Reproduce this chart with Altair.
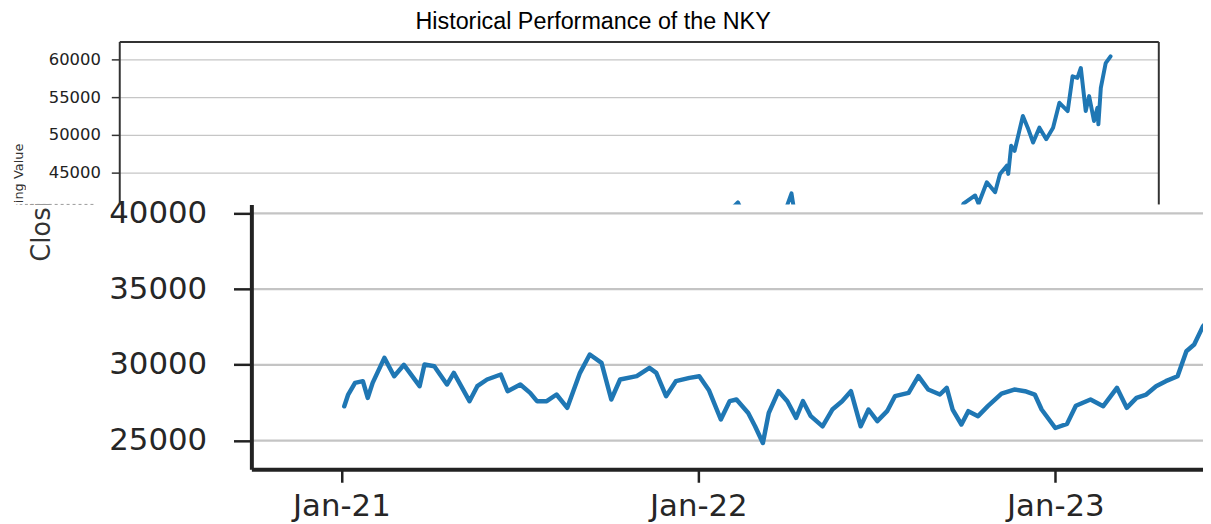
import altair as alt
import pandas as pd

# ---------------- data ----------------
dates = [
    "2021-01-04", "2021-01-08", "2021-01-15", "2021-01-23", "2021-01-28", "2021-02-02",
    "2021-02-14", "2021-02-24", "2021-03-06", "2021-03-22", "2021-03-27", "2021-04-06",
    "2021-04-19", "2021-04-26", "2021-05-12", "2021-05-20", "2021-05-30", "2021-06-13",
    "2021-06-20", "2021-07-03", "2021-07-13", "2021-07-20", "2021-07-30", "2021-08-09",
    "2021-08-20", "2021-09-02", "2021-09-12", "2021-09-24", "2021-10-04", "2021-10-13",
    "2021-10-30", "2021-11-12", "2021-11-19", "2021-11-29", "2021-12-09", "2021-12-23",
    "2022-01-02", "2022-01-12", "2022-01-24", "2022-02-02", "2022-02-09", "2022-02-21",
    "2022-02-28", "2022-03-08", "2022-03-14", "2022-03-24", "2022-04-02", "2022-04-11",
    "2022-04-18", "2022-04-26", "2022-05-08", "2022-05-18", "2022-05-28", "2022-06-06",
    "2022-06-16", "2022-06-24", "2022-07-03", "2022-07-13", "2022-07-21", "2022-08-04",
    "2022-08-14", "2022-08-24", "2022-09-05", "2022-09-12", "2022-09-18", "2022-09-27",
    "2022-10-04", "2022-10-14", "2022-10-24", "2022-11-07", "2022-11-20", "2022-12-01",
    "2022-12-11", "2022-12-18", "2023-01-01", "2023-01-13", "2023-01-22", "2023-02-06",
    "2023-02-19", "2023-03-05", "2023-03-15", "2023-03-25", "2023-04-04", "2023-04-14",
    "2023-04-24", "2023-05-06", "2023-05-15", "2023-05-23", "2023-06-01", "2023-06-15",
    "2023-07-03", "2023-07-28", "2023-08-25", "2023-09-15", "2023-10-26", "2023-11-20",
    "2023-12-29", "2024-01-22", "2024-02-22", "2024-03-22", "2024-04-19", "2024-05-20",
    "2024-06-20", "2024-07-10", "2024-08-05", "2024-08-30", "2024-09-13", "2024-10-15",
    "2024-11-15", "2024-12-27", "2025-01-24", "2025-02-28", "2025-04-07", "2025-05-13",
    "2025-06-10", "2025-06-28", "2025-07-22", "2025-07-29", "2025-08-15", "2025-09-01",
    "2025-09-11", "2025-09-25", "2025-09-28", "2025-10-04", "2025-10-11", "2025-10-28",
    "2025-11-07", "2025-11-18", "2025-12-01", "2025-12-15", "2025-12-29", "2026-01-11",
    "2026-01-28", "2026-02-07", "2026-02-17", "2026-02-24", "2026-03-06", "2026-03-13",
    "2026-03-23", "2026-03-30", "2026-04-01", "2026-04-06", "2026-04-16", "2026-04-26",
]
closing = [
    27260, 28040, 28810, 28920, 27820, 28810,
    30460, 29250, 30000, 28590, 30020, 29910,
    28700, 29470, 27600, 28590, 29030, 29360,
    28260, 28700, 28150, 27600, 27600, 28040,
    27160, 29470, 30680, 30130, 27710, 29030,
    29250, 29800, 29470, 27930, 28920, 29140,
    29250, 28300, 26390, 27600, 27710, 26820,
    25940, 24840, 26820, 28260, 27600, 26500,
    27600, 26610, 25940, 27050, 27600, 28260,
    25940, 27050, 26280, 26940, 27930, 28150,
    29250, 28370, 28040, 28480, 27050, 26060,
    26940, 26610, 27270, 28100, 28370, 28260,
    28040, 27050, 25830, 26100, 27300, 27710,
    27270, 28480, 27160, 27820, 28040, 28590,
    28920, 29250, 30900, 31340, 32550, 33500,
    33700, 32700, 31600, 33500, 30600, 33400,
    33500, 36500, 39100, 41000, 37000, 39000,
    38600, 42200, 31500, 38600, 36600, 39900,
    38600, 40200, 39900, 37200, 31100, 38200,
    38200, 40820, 41920, 40820, 43680, 42360,
    44790, 45890, 44790, 48530, 47870, 52500,
    50950, 48970, 50950, 49420, 50950, 54260,
    53160, 57790, 57570, 58890, 53160, 55150,
    51840, 53600, 51400, 56240, 59550, 60440,
]
top_ticks = [45000, 50000, 55000, 60000]
bottom_ticks = [25000, 30000, 35000, 40000]
bottom_x_ticks = [2021, 2022, 2023]

title_text = "Historical Performance of the NKY"
y_title = "Closing Value"

series = pd.DataFrame({"date": dates, "close": closing})
top_tick_df = pd.DataFrame({"close": top_ticks})
bottom_grid_df = pd.DataFrame({"close": bottom_ticks,
                               "start": ["2020-10-01"] * len(bottom_ticks),
                               "end": ["2023-06-01"] * len(bottom_ticks)})
one_row = pd.DataFrame({"k": [0]})
title_df = pd.DataFrame({"label": [title_text]})

BLUE = "#1f77b4"
AX = "#333333"

def dt(y, m, d):
    return alt.DateTime(year=y, month=m, date=d)

# ---------- scales (pixel ranges inside the plot group) ----------
top_x = alt.Scale(domain=[dt(2020, 9, 29), dt(2026, 8, 2)], range=[112, 1158], nice=False)
top_y = alt.Scale(domain=[40730, 62420], range=[164, 0], nice=False, zero=False)
bot_x = alt.Scale(domain=[dt(2020, 10, 1), dt(2023, 6, 1)], range=[245, 1203], nice=False)
bot_y = alt.Scale(domain=[23100, 40590], range=[430.7, 164], nice=False, zero=False)

# ---------------- chart title ----------------
title_mark = alt.Chart(title_df).mark_text(
    font="Liberation Sans", fontSize=23.5, color="#000000", align="center",
    baseline="alphabetic").encode(
    text="label:N", x=alt.value(589), y=alt.value(-13))

# ---------------- top (full history) panel ----------------
top_line = alt.Chart(series).mark_line(color=BLUE, strokeWidth=4, strokeJoin="round",
                                       strokeCap="round", clip=True).encode(
    x=alt.X("date:T", scale=top_x,
            axis=alt.Axis(orient="top", offset=0, domain=True, domainColor=AX, domainWidth=2,
                          ticks=False, labels=False, grid=False, title=None, zindex=0)),
    y=alt.Y("close:Q", scale=top_y,
            axis=alt.Axis(orient="left", offset=-112, values=top_ticks, labels=False, ticks=False,
                          domain=False, grid=True, gridColor="#c6c6c6", gridWidth=1.5,
                          title=y_title, titleFont="DejaVu Sans", titleFontSize=13,
                          titleFontWeight="normal", titleColor=AX, titleAngle=270,
                          titleAlign="center", titleBaseline="alphabetic",
                          titleX=-97.5, titleY=146, zindex=0)),
)

top_labels = alt.Chart(top_tick_df).mark_point(opacity=0).encode(
    y=alt.Y("close:Q", scale=top_y,
            axis=alt.Axis(orient="left", offset=-112, values=top_ticks, format="d",
                          labelFont="DejaVu Sans", labelFontSize=16.5, labelColor="#222222",
                          labelPadding=11, tickSize=8, tickWidth=1.5, tickColor=AX,
                          domain=True, domainColor=AX, domainWidth=2, grid=False,
                          title=None, zindex=1)),
)

top_right = alt.Chart(top_tick_df).mark_point(opacity=0).encode(
    y=alt.Y("close:Q", scale=top_y,
            axis=alt.Axis(orient="right", offset=-45, labels=False, ticks=False, grid=False,
                          domain=True, domainColor=AX, domainWidth=2, title=None, zindex=0)),
)

# ---------------- white masks of the cut-and-paste composite ----------------
mask_bottom_right = alt.Chart(one_row).mark_rect(color="white").encode(
    x=alt.value(58), x2=alt.value(1203), y=alt.value(164), y2=alt.value(484))
mask_bottom_left = alt.Chart(one_row).mark_rect(color="white").encode(
    x=alt.value(0), x2=alt.value(18), y=alt.value(164), y2=alt.value(484))
mask_top_strip = alt.Chart(one_row).mark_rect(color="white").encode(
    x=alt.value(18), x2=alt.value(58), y=alt.value(0), y2=alt.value(164))
seam = alt.Chart(one_row).mark_rule(color="#9a9a9a", strokeWidth=1, strokeDash=[3, 3]).encode(
    x=alt.value(17), x2=alt.value(89), y=alt.value(164))

# ---------------- bottom (zoomed) panel ----------------
bottom_grid = alt.Chart(bottom_grid_df).mark_rule(color="#c4c4c4", strokeWidth=2.2).encode(
    x=alt.X("start:T", scale=bot_x, axis=None),
    x2="end:T",
    y=alt.Y("close:Q", scale=bot_y,
            axis=alt.Axis(orient="left", offset=-245, labels=False, ticks=False, domain=False,
                          grid=False, title=y_title, titleFont="DejaVu Sans", titleFontSize=26,
                          titleFontWeight="normal", titleColor=AX, titleAngle=270,
                          titleAlign="center", titleBaseline="alphabetic",
                          titleX=-203, titleY=134, zindex=0)),
)

bottom_line = alt.Chart(series).transform_filter(
    alt.FieldLTEPredicate(field="date", lte=alt.DateTime(year=2023, month=6, date=20))
).mark_line(color=BLUE, strokeWidth=4.5, strokeJoin="round",
            strokeCap="round", clip=True).encode(
    x=alt.X("date:T", scale=bot_x,
            axis=alt.Axis(orient="bottom", offset=-53.3,
                          values=[dt(y, 1, 1) for y in bottom_x_ticks],
                          format="%b-%y", labelFont="DejaVu Sans",
                          labelFontSize=31, labelColor="#262626", labelPadding=9,
                          labelFlush=False, labelOverlap=False,
                          tickSize=13, tickWidth=2.5, tickColor="#222222",
                          domain=True, domainColor="#222222", domainWidth=4,
                          grid=False, title=None, zindex=1)),
    y=alt.Y("close:Q", scale=bot_y,
            axis=alt.Axis(orient="left", offset=-245, values=bottom_ticks, format="d",
                          labelFont="DejaVu Sans", labelFontSize=31, labelColor="#262626",
                          labelPadding=27, tickSize=18, tickWidth=2.5, tickColor="#222222",
                          domain=True, domainColor="#222222", domainWidth=4, grid=False,
                          title=None, zindex=1)),
)

chart = alt.layer(
    top_line, mask_bottom_right, mask_bottom_left, mask_top_strip,
    bottom_grid, bottom_line, top_labels, top_right, seam, title_mark,
).resolve_scale(
    x="independent", y="independent"
).properties(
    width=1203, height=484,
    autosize=alt.AutoSizeParams(type="none"),
    padding={"left": 0, "top": 32, "right": 0, "bottom": 0},
).configure_view(strokeWidth=0)

chart.save("out.html", embed_options={"renderer": "svg", "actions": False})
